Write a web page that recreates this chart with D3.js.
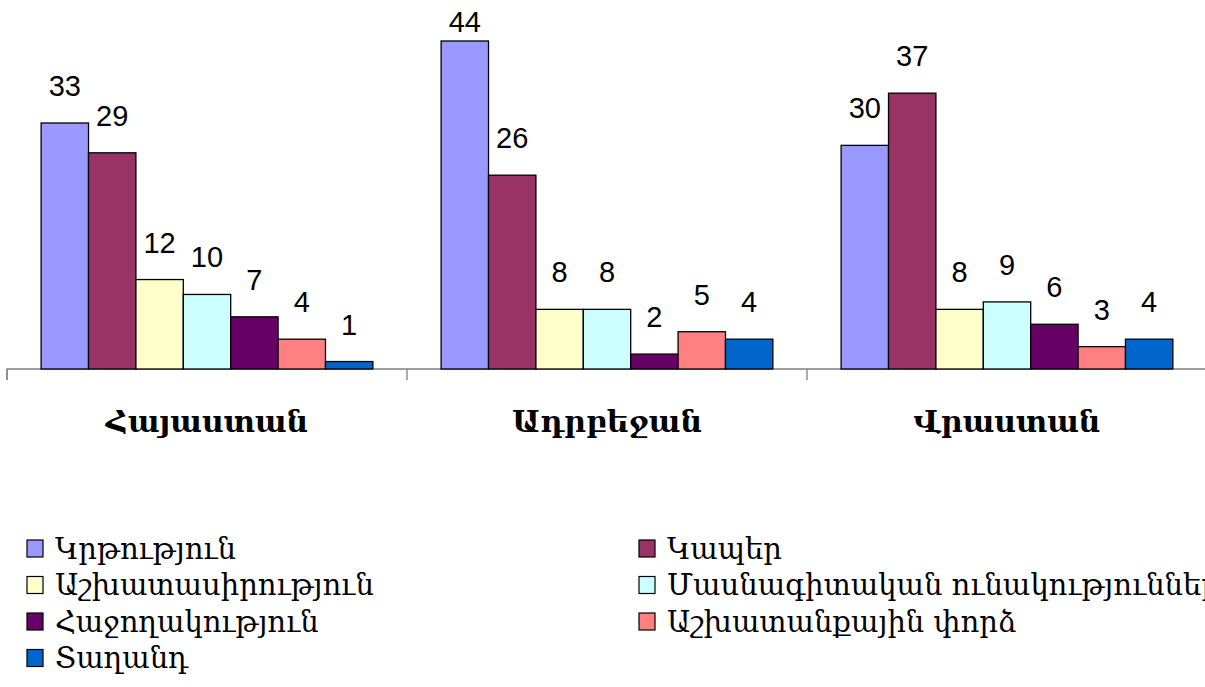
<!DOCTYPE html>
<html>
<head>
<meta charset="utf-8">
<script src="https://cdn.jsdelivr.net/npm/d3@7"></script>
<style>
  html, body { margin: 0; padding: 0; background: #fff; overflow: hidden; }
  svg { display: block; }
</style>
</head>
<body>
<svg id="chart" width="1205" height="687"></svg>
<script>
// ---- data ----
const categories = ["Հայաստան", "Ադրբեջան", "Վրաստան"];
const seriesNames = [
  "Կրթություն",
  "Կապեր",
  "Աշխատասիրություն",
  "Մասնագիտական ունակություններ",
  "Հաջողակություն",
  "Աշխատանքային փորձ",
  "Տաղանդ"
];
const seriesColors = ["#9999FF", "#993366", "#FFFFCC", "#CCFFFF", "#660066", "#FF8080", "#0066CC"];
// values per category (order matches seriesNames)
const valuesArmenia    = [33, 29, 12, 10, 7, 4, 1];
const valuesAzerbaijan = [44, 26, 8, 8, 2, 5, 4];
const valuesGeorgia    = [30, 37, 8, 9, 6, 3, 4];
const allValues = [valuesArmenia, valuesAzerbaijan, valuesGeorgia];

// ---- layout ----
const svg = d3.select("#chart");
const plotLeft = 7, plotRight = 1207, baseY = 369;

const x0 = d3.scaleBand().domain(categories).range([plotLeft, plotRight]).paddingInner(0).paddingOuter(0);
const x1 = d3.scaleBand().domain(seriesNames).range([0, x0.bandwidth()]).paddingInner(0).paddingOuter(0.72);
const y = d3.scaleLinear().domain([0, 49.5]).range([baseY, 0]);

const rows = [];
categories.forEach((c, ci) => {
  seriesNames.forEach((s, si) => {
    rows.push({ cat: c, series: s, si, value: allValues[ci][si] });
  });
});

// axis
const axis = d3.axisBottom(x0).tickSizeInner(11).tickSizeOuter(11).tickFormat("");
const ag = svg.append("g").attr("transform", `translate(0,${baseY})`).call(axis);
ag.selectAll("path, line").attr("stroke", "#808080").attr("stroke-width", 1.3);
// Excel-style ticks at category boundaries
ag.selectAll(".tick line").attr("transform", `translate(${-x0.bandwidth() / 2},0)`);
ag.select(".domain").attr("d", `M${plotLeft},11V0H${plotRight}`);

// bars
svg.append("g").selectAll("rect").data(rows).join("rect")
  .attr("x", d => x0(d.cat) + x1(d.series))
  .attr("y", d => y(d.value))
  .attr("width", x1.bandwidth())
  .attr("height", d => baseY - y(d.value))
  .attr("fill", d => seriesColors[d.si])
  .attr("stroke", "#000")
  .attr("stroke-width", 1.3);

// value labels
svg.append("g").selectAll("text").data(rows).join("text")
  .attr("x", d => x0(d.cat) + x1(d.series) + x1.bandwidth() / 2)
  .attr("y", d => Math.max(y(d.value) - 27, 32))
  .attr("text-anchor", "middle")
  .attr("font-family", "Liberation Sans, Arial, sans-serif")
  .attr("font-size", 29)
  .attr("fill", "#000")
  .text(d => d.value);

// category labels
svg.append("g").selectAll("text").data(categories).join("text")
  .attr("x", d => x0(d) + x0.bandwidth() / 2)
  .attr("y", 432)
  .attr("text-anchor", "middle")
  .attr("font-family", "DejaVu Serif, serif")
  .attr("font-weight", "bold")
  .attr("font-size", 30)
  .attr("fill", "#000")
  .text(d => d);

// legend
const legendCols = [27, 639];
const legendRowY = [548.5, 585, 621.5, 658];
const lg = svg.append("g").selectAll("g").data(seriesNames).join("g")
  .attr("transform", (d, i) => `translate(${legendCols[i % 2]},${legendRowY[Math.floor(i / 2)]})`);
lg.append("rect")
  .attr("x", 0).attr("y", -8.5).attr("width", 16).attr("height", 17)
  .attr("fill", (d, i) => seriesColors[i])
  .attr("stroke", "#000").attr("stroke-width", 1.2);
lg.append("text")
  .attr("x", 28).attr("y", 10)
  .attr("font-family", "DejaVu Serif, serif")
  .attr("font-size", 29)
  .attr("fill", "#000")
  .text(d => d);
</script>
</body>
</html>
